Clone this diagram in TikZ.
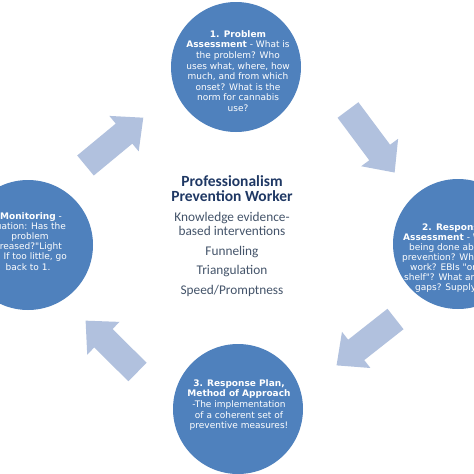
\documentclass[tikz,border=0pt]{standalone}
\usepackage{fontspec}
\setmainfont{Carlito}
\newfontfamily\vfont{DejaVu Sans}
\definecolor{circblue}{HTML}{4F81BD}
\definecolor{arrblue}{HTML}{B1C1DE}
\definecolor{titleblue}{HTML}{1F3864}
\definecolor{bodygray}{HTML}{44546A}
\tikzset{
  circ/.style={circle, fill=circblue, draw=none, minimum size=130pt, inner sep=0pt},
  ctext/.style={text=white, font=\vfont\fontsize{9}{10.6}\selectfont, align=center, inner sep=0pt},
  cline/.style={text=white, font=\vfont\fontsize{9}{10.6}\selectfont, inner sep=0pt},
  titletext/.style={text=titleblue, font=\bfseries\fontsize{15.5}{15}\selectfont, inner sep=0pt, align=center},
  bodytext/.style={text=bodygray, font=\fontsize{13.3}{14}\selectfont, inner sep=0pt, align=center},
  blockarrow/.style={fill=arrblue, draw=none},
}
\newcommand\myblockarr[4]{%
  \begin{scope}[shift={(#1,#2)}, rotate=#3]
    \fill[blockarrow] (0,-13) -- ({#4-25},-13) -- ({#4-25},-23) -- (#4,0) -- ({#4-25},23) -- ({#4-25},13) -- (0,13) -- cycle;
  \end{scope}}
\begin{document}
\begin{tikzpicture}[x=1pt,y=-1pt]
  \useasboundingbox (0,0) rectangle (474,474);
  \fill[white] (0,0) rectangle (474,474);
  \clip (0,0) rectangle (474,474);
  % circles
  \node[circ] (c1) at (236,67) {};
  \node[circ] (c2) at (458,244) {};
  \node[circ] (c3) at (238,409) {};
  \node[circ] (c4) at (28,245) {};
  % arrows
  \myblockarr{85.5}{165.5}{39.6}{75}
  \myblockarr{348}{110}{-53.3}{78}
  \myblockarr{395.5}{319}{-141.8}{75}
  \myblockarr{137.5}{372}{135.3}{73}
  % circle 1 text
  \node[ctext] (t1) at (238,71) {\textbf{1. Problem}\\ \textbf{Assessment} - What is\\ the problem? Who\\ uses what, where, how\\ much, and from which\\ onset? What is the\\ norm for cannabis\\ use?};
  % circle 3 text
  \node[ctext] (t3) at (239,405) {\textbf{3. Response Plan,}\\ \textbf{Method of Approach}\\ -The implementation\\ of a coherent set of\\ preventive measures!};
  % circle 2 text (cut by the right edge, as in the reference)
  \node[cline, anchor=base west] (t2a) at (422,230) {\textbf{2. Respons}};
  \node[cline, anchor=base west] (t2b) at (403,240) {\textbf{Assessment} - W};
  \node[cline, anchor=base west] (t2c) at (409,250) {being done abo};
  \node[cline, anchor=base west] (t2d) at (402,260) {prevention? What};
  \node[cline, anchor=base west] (t2e) at (410,270) {work? EBIs "on};
  \node[cline, anchor=base west] (t2f) at (404,280) {shelf"? What are};
  \node[cline, anchor=base west] (t2g) at (415,290) {gaps? Supply};
  % circle 4 text (cut by the left edge, as in the reference)
  \node[cline, anchor=base east] (t4a) at (62,219) {\textbf{Monitoring} -};
  \node[cline, anchor=base east] (t4b) at (66,229.2) {luation: Has the};
  \node[cline, anchor=base] (t4c) at (30,239.4) {problem};
  \node[cline, anchor=base east] (t4d) at (62,249.6) {creased?"Light};
  \node[cline, anchor=base east] (t4e) at (67,259.8) {". If too little, go};
  \node[cline, anchor=base] (t4f) at (28,270) {back to 1.};
  % centre text
  \node[titletext] (h1) at (232,189) {Professionalism\\ Prevention Worker};
  \node[bodytext] (b1) at (232,224) {Knowledge evidence-\\ based interventions};
  \node[bodytext, anchor=base] (b3) at (232,255) {Funneling};
  \node[bodytext, anchor=base] (b4) at (232,274) {Triangulation};
  \node[bodytext, anchor=base] (b5) at (232,294) {Speed/Promptness};
\end{tikzpicture}
\end{document}
